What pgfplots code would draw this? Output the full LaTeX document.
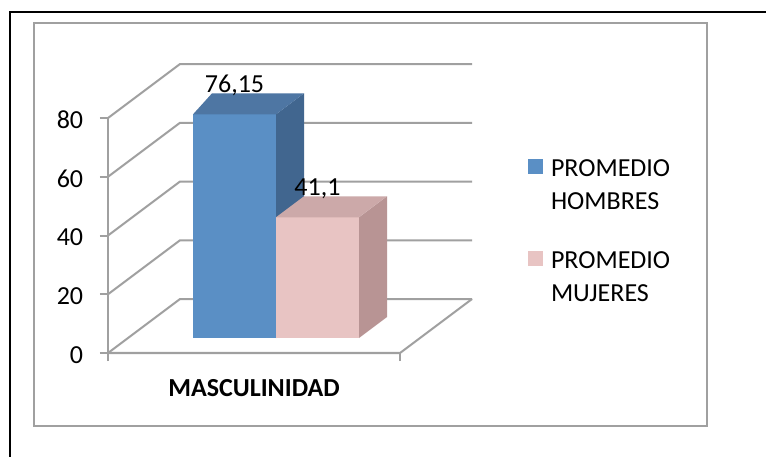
\documentclass[border=0pt]{standalone}
\usepackage{fontspec}
\setmainfont{Carlito}
\usepackage{pgfplots}
\pgfplotsset{compat=1.18}
\definecolor{gridgray}{HTML}{A0A0A0}
\definecolor{bluefront}{HTML}{5A8FC5}
\definecolor{blueside}{HTML}{41668F}
\definecolor{bluetop}{HTML}{4E76A3}
\definecolor{pinkfront}{HTML}{E8C4C3}
\definecolor{pinkside}{HTML}{B89494}
\definecolor{pinktop}{HTML}{CCA9A9}
\begin{document}
\fontsize{26bp}{33bp}\selectfont
\begin{tikzpicture}
\useasboundingbox (0,0) rectangle (766bp,457bp);
\fill[white] (0,0) rectangle (766bp,457bp);
\draw[gridgray, line width=2.5bp] (34bp,31bp) rectangle (707bp,434bp);
\draw[black, line width=2bp] (10bp,0bp) -- (10bp,445bp) -- (766bp,445bp);
\begin{axis}[
  at={(108bp,104bp)}, anchor=south west,
  width=364bp, height=235bp, scale only axis,
  xmin=108, xmax=472, ymin=0, ymax=80,
  clip=false,
  axis lines=left, axis line style={draw=none},
  xtick={108,400}, xticklabels={},
  ytick={0,20,40,60,80},
  tick align=outside, major tick length=8bp,
  tick style={gridgray, line width=2bp},
  yticklabel style={xshift=-8bp, yshift=-2bp},
  /pgf/number format/assume math mode=true,
  /pgf/number format/use comma,
  legend image code/.code={\fill[#1] (0bp,36bp) rectangle (15bp,51bp);},
  legend style={at={(axis cs:528,66.4)}, anchor=north west, draw=none, fill=none,
    inner sep=0pt, outer sep=0pt, row sep=34bp, column sep=6bp,
    cells={anchor=base west, align=left, inner sep=0pt}},
]
% walls and floor
\addplot[gridgray, line width=2bp, forget plot] coordinates {(108,0) (108,80)};
\addplot[gridgray, line width=2bp, forget plot] coordinates {(108,0) (400,0) (472,18.38)};
\addplot[gridgray, line width=2bp, forget plot] coordinates {(108,0) (180,18.38) (472,18.38)};
\addplot[gridgray, line width=2bp, forget plot] coordinates {(108,20) (180,38.38) (472,38.38)};
\addplot[gridgray, line width=2bp, forget plot] coordinates {(108,40) (180,58.38) (472,58.38)};
\addplot[gridgray, line width=2bp, forget plot] coordinates {(108,60) (180,78.38) (472,78.38)};
\addplot[gridgray, line width=2bp, forget plot] coordinates {(108,80) (180,98.38) (472,98.38)};
% blue bar: PROMEDIO HOMBRES = 76.15
\addplot[ybar, bar width=83, bar shift=0pt, fill=bluefront, draw=none, yshift=15bp, forget plot,
  nodes near coords, nodes near coords style={anchor=center, yshift=29bp, text=black}]
  coordinates {(234.5,76.15)};
\addplot[fill=blueside, draw=none, forget plot] coordinates {(276,81.25) (304,88.4) (304,12.25) (276,5.1)} -- cycle;
\addplot[fill=bluetop, draw=none, forget plot] coordinates {(193,81.25) (212,88.4) (304,88.4) (276,81.25)} -- cycle;
% pink bar: PROMEDIO MUJERES = 41.1
\addplot[ybar, bar width=83, bar shift=0pt, fill=pinkfront, draw=none, yshift=15bp, forget plot,
  nodes near coords, nodes near coords style={anchor=center, yshift=28bp, text=black}]
  coordinates {(317.5,41.1)};
\addplot[fill=pinkside, draw=none, forget plot] coordinates {(359,46.2) (387,53.35) (387,12.25) (359,5.1)} -- cycle;
\addplot[fill=pinktop, draw=none, forget plot] coordinates {(276,46.2) (304,53.35) (387,53.35) (359,46.2)} -- cycle;
% legend
\addlegendimage{fill=bluefront, draw=none}
\addlegendentry{PROMEDIO\\HOMBRES}
\addlegendimage{fill=pinkfront, draw=none}
\addlegendentry{PROMEDIO\\MUJERES}
\node[font=\bfseries] at (axis cs:254,-11.9) {MASCULINIDAD};
\end{axis}
\end{tikzpicture}
\end{document}
